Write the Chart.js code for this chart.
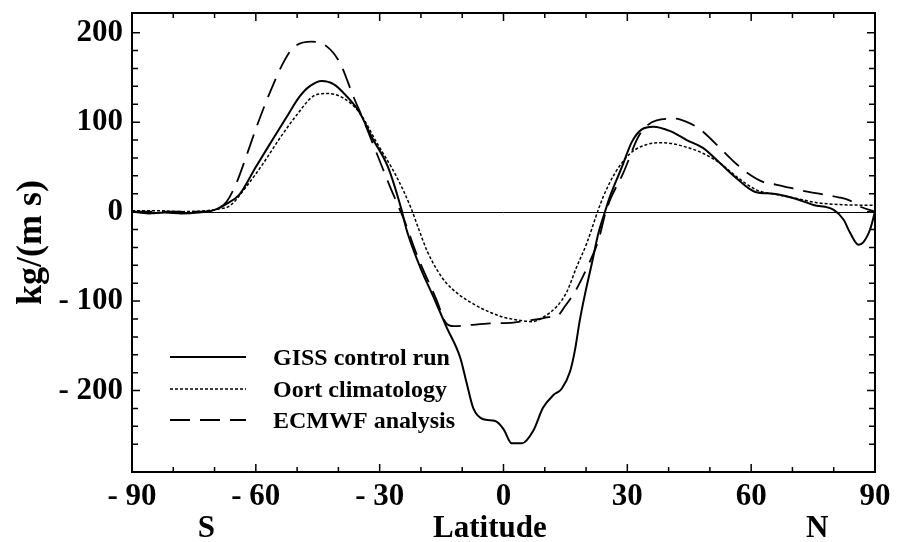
<!DOCTYPE html>
<html>
<head>
<meta charset="utf-8">
<script src="https://cdn.jsdelivr.net/npm/chart.js@4.4.1/dist/chart.umd.min.js"></script>
<style>
  html, body { margin: 0; padding: 0; background: #fff; }
  canvas { display: block; }
</style>
</head>
<body>
<canvas id="myChart" width="897" height="542"></canvas>
<script>
// latitudes and values (kg/(m s))
const gissLat = [-90, -86, -82, -78, -74, -70, -67, -64, -60, -56, -52.5, -49.5, -47, -44, -41, -38, -35, -32, -28, -24.7, -23.5, -20.2, -17, -13.8, -10.5, -8.9, -7.3, -4.9, -2, 0, 2, 4.5, 7.2, 9.6, 12.1, 14.1, 16.1, 17.3, 18.5, 19.8, 21.4, 23, 24.6, 25.8, 28.7, 31.1, 33.5, 36.3, 40.4, 44.4, 48.4, 52.5, 56.5, 61, 65.4, 70.3, 75.1, 80, 82.4, 84, 86, 87.2, 88.8, 90];
const gissVal = [0, -2, -1, -2, -1, 2, 9, 19, 50, 80, 106, 128, 140, 146, 142, 129, 112, 84, 50, 2, -20, -62, -95, -129, -163, -192, -220, -232, -234, -243, -259, -259, -245, -219, -205, -198, -179, -155, -121, -91, -58, -24, 0, 17, 50, 78, 92, 95, 90, 80, 71, 54, 37, 22, 20, 15, 7.5, 2, -9, -24, -37, -34, -20, 0];

const oortLat = [-90, -84, -78, -72, -69, -66.3, -62.3, -58.2, -54.2, -50.1, -46.1, -42.9, -38.8, -34.8, -30.7, -25.9, -22.5, -20.5, -18.5, -16, -13.8, -11, -7, -3, 0, 4.8, 7, 9.6, 12.9, 15.3, 17.7, 20.2, 22.8, 24.2, 27, 30.7, 34.7, 38.7, 43.6, 48.4, 52.5, 56.5, 61.4, 66.2, 70.7, 75.9, 80.8, 90];
const oortVal = [1, 1, 0, 1, 3, 6.5, 28, 54, 82, 108, 129, 132, 127, 110, 77, 39, 5, -20, -44, -66, -80, -92, -104, -113, -118, -122, -123, -118, -106, -90, -62, -35, 0, 17, 43, 65, 75, 77, 73, 65, 54, 39, 24, 19, 15, 10, 8, 7];

const ecmwfLat = [-90, -84, -78, -72, -69, -67.1, -64.7, -62.3, -59.8, -56.6, -53.4, -51, -46.5, -42.9, -39.6, -36.4, -34, -30.7, -27.5, -25.1, -24, -21, -16.2, -14, -12, -8.9, -3.3, 2.4, 5.6, 8.8, 11, 12.9, 15, 17.5, 20.5, 23, 24.8, 26, 29, 32.7, 35, 37.1, 41.5, 44.5, 47.6, 52.9, 56.5, 59.8, 63, 66.2, 73.9, 81.2, 83.8, 86.4, 90];
const ecmwfVal = [0, 0, 0, 0, 4, 11, 32, 62, 95, 133, 166, 183, 190, 185, 166, 129, 103, 65, 28, 2, -10, -48, -99, -124, -128, -127, -125, -124, -122, -120, -118, -117, -105, -88, -60, -32, 0, 15, 43, 84, 97, 102, 104, 100, 92, 69, 53, 41, 33, 30, 22, 16, 12.6, 5.6, 0];

const seriesNames = ['GISS control run', 'Oort climatology', 'ECMWF analysis'];

const xTickValues = [-90, -60, -30, 0, 30, 60, 90];
const xTickLabels = ['- 90', '- 60', '- 30', '0', '30', '60', '90'];
const yTickValues = [200, 100, 0, -100, -200];
const yTickLabels = ['200', '100', '0', '- 100', '- 200'];

const serif = '"Liberation Serif", "Times New Roman", serif';

const toPoints = (lat, val) => lat.map((l, i) => ({x: l, y: val[i]}));

function tickLabel(values, labels, v) {
    const i = values.indexOf(v);
    return i >= 0 ? labels[i] : '';
}

// box, inward ticks, zero line, legend and the S / Latitude / N texts
const frame = {
    id: 'frame',
    beforeDatasetsDraw(chart) {
        const {ctx, chartArea: a, scales: {y}} = chart;
        const y0 = Math.round(y.getPixelForValue(0)) + 0.5;
        ctx.save();
        ctx.strokeStyle = '#000';
        ctx.lineWidth = 1;
        ctx.beginPath();
        ctx.moveTo(a.left, y0);
        ctx.lineTo(a.right, y0);
        ctx.stroke();
        ctx.restore();
    },
    afterDatasetsDraw(chart) {
        const {ctx, chartArea: a, scales: {x, y}} = chart;
        ctx.save();
        ctx.strokeStyle = '#000';
        ctx.lineWidth = 2;
        ctx.strokeRect(a.left, a.top, a.right - a.left, a.bottom - a.top);

        ctx.lineWidth = 1.5;
        ctx.beginPath();
        x.ticks.forEach(t => {
            if (t.value % 10 !== 0) return;
            const px = x.getPixelForValue(t.value);
            const len = t.value % 30 === 0 ? 8 : 5;
            ctx.moveTo(px, a.bottom); ctx.lineTo(px, a.bottom - len);
            ctx.moveTo(px, a.top); ctx.lineTo(px, a.top + len);
        });
        y.ticks.forEach(t => {
            if (t.value % 20 !== 0) return;
            const py = y.getPixelForValue(t.value);
            const len = t.value % 100 === 0 ? 8 : 6;
            ctx.moveTo(a.left, py); ctx.lineTo(a.left + len, py);
            ctx.moveTo(a.right, py); ctx.lineTo(a.right - len, py);
        });
        ctx.stroke();

        // legend
        const rows = [357, 389, 420];
        chart.data.datasets.forEach((ds, i) => {
            ctx.lineWidth = ds.borderWidth;
            ctx.setLineDash(ds.borderDash || []);
            ctx.beginPath();
            ctx.moveTo(170, rows[i]);
            ctx.lineTo(246, rows[i]);
            ctx.stroke();
            ctx.setLineDash([]);
            ctx.fillStyle = '#000';
            ctx.font = 'bold 24px ' + serif;
            ctx.textAlign = 'left';
            ctx.textBaseline = 'alphabetic';
            ctx.fillText(ds.label, 273, rows[i] + 8);
        });

        ctx.font = 'bold 31px ' + serif;
        ctx.textAlign = 'center';
        ctx.fillText('S', x.getPixelForValue(-72), 537);
        ctx.fillText('Latitude', x.getPixelForValue(-3.3), 537);
        ctx.fillText('N', x.getPixelForValue(76), 537);
        ctx.restore();
    }
};

const ctx = document.getElementById('myChart').getContext('2d');

const config = {
    type: 'line',
    data: {
        datasets: [{
            label: seriesNames[0],
            data: toPoints(gissLat, gissVal),
            borderColor: '#000',
            borderWidth: 2,
            pointRadius: 0,
            cubicInterpolationMode: 'monotone'
        }, {
            label: seriesNames[1],
            data: toPoints(oortLat, oortVal),
            borderColor: '#000',
            borderWidth: 1.5,
            borderDash: [3, 2],
            pointRadius: 0,
            cubicInterpolationMode: 'monotone'
        }, {
            label: seriesNames[2],
            data: toPoints(ecmwfLat, ecmwfVal),
            borderColor: '#000',
            borderWidth: 1.8,
            borderDash: [20, 10],
            pointRadius: 0,
            cubicInterpolationMode: 'monotone'
        }]
    },
    options: {
        responsive: false,
        animation: false,
        layout: {padding: {top: 13, right: 22, left: 0, bottom: 0}},
        plugins: {legend: {display: false}, tooltip: {enabled: false}},
        scales: {
            x: {
                type: 'linear',
                min: -90,
                max: 90,
                grid: {display: false, drawTicks: false},
                border: {display: false},
                ticks: {
                    stepSize: 10,
                    autoSkip: false,
                    maxRotation: 0,
                    padding: 6,
                    color: '#000',
                    font: {family: serif, size: 31, weight: 'bold'},
                    callback: v => tickLabel(xTickValues, xTickLabels, v)
                },
                afterFit: s => {
                    s.height = 70;
                    s.paddingLeft = 0;
                    s.paddingRight = 0;
                }
            },
            y: {
                min: -291,
                max: 222,
                grid: {display: false, drawTicks: false},
                border: {display: false},
                ticks: {
                    stepSize: 20,
                    autoSkip: false,
                    padding: 9,
                    color: '#000',
                    font: {family: serif, size: 31, weight: 'bold'},
                    callback: v => tickLabel(yTickValues, yTickLabels, v)
                },
                title: {
                    display: true,
                    text: 'kg/(m s)',
                    color: '#000',
                    font: {family: serif, size: 36, weight: 'bold'},
                    padding: {top: 10, bottom: 0}
                },
                afterFit: s => {
                    s.width = 132;
                    s.paddingTop = 0;
                    s.paddingBottom = 0;
                }
            }
        }
    },
    plugins: [frame]
};

window.fluxChart = new Chart(ctx, config);
</script>
</body>
</html>
